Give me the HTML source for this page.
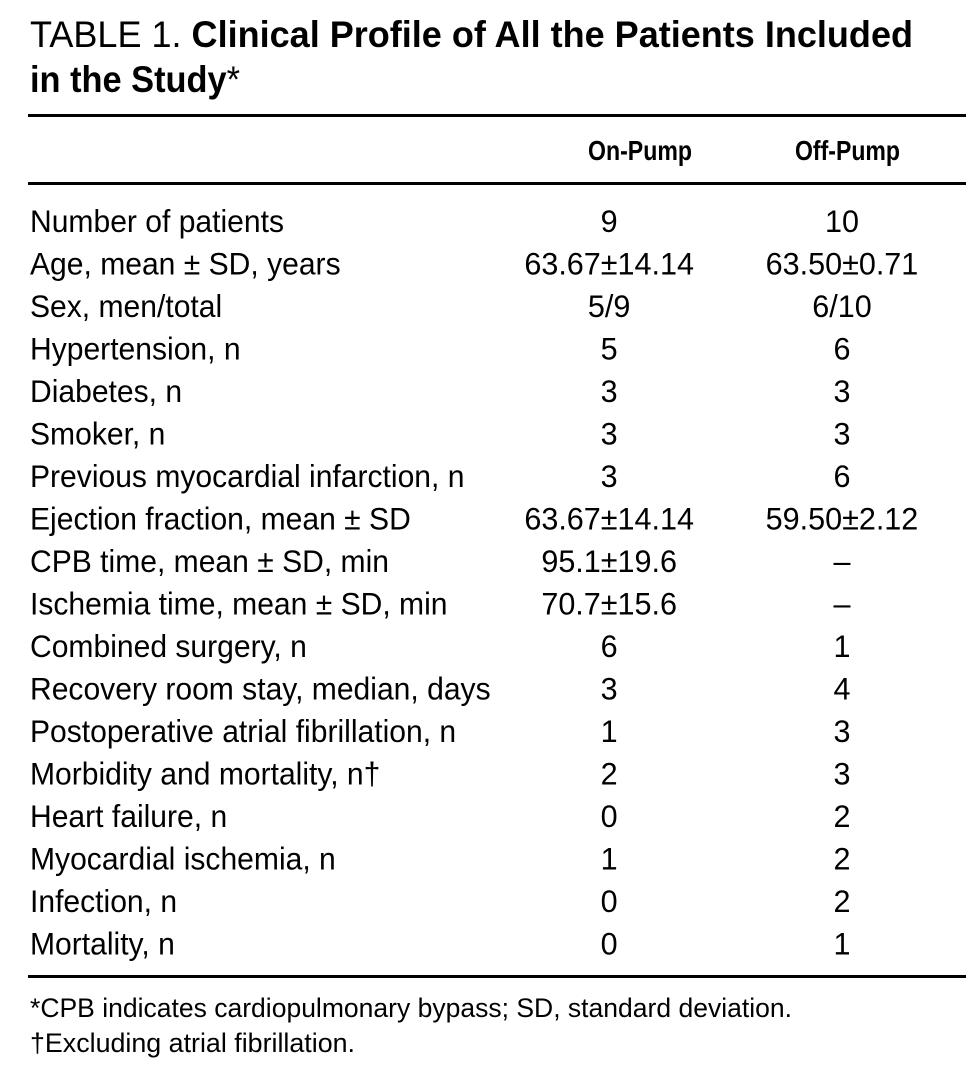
<!DOCTYPE html>
<html><head><meta charset="utf-8"><style>
html,body{margin:0;padding:0;background:#fff;}
svg{display:block;font-family:"Liberation Sans",sans-serif;fill:#000;}
</style></head><body>
<svg width="974" height="1072" viewBox="0 0 974 1072" xmlns="http://www.w3.org/2000/svg">
<text x="30" y="47" font-size="37" textLength="883" lengthAdjust="spacingAndGlyphs">TABLE 1. <tspan font-weight="bold">Clinical Profile of All the Patients Included</tspan></text>
<text x="30" y="92" font-size="37" font-weight="bold" textLength="210" lengthAdjust="spacingAndGlyphs">in the Study<tspan font-weight="normal">*</tspan></text>
<rect x="28" y="114" width="938" height="3"/>
<text x="588" y="160" font-size="28" font-weight="bold" textLength="104" lengthAdjust="spacingAndGlyphs">On-Pump</text>
<text x="795" y="160" font-size="28" font-weight="bold" textLength="105" lengthAdjust="spacingAndGlyphs">Off-Pump</text>
<rect x="28" y="182" width="938" height="3"/>
<g transform="scale(0.955,1)" font-size="31.5">
<g transform="translate(31.41,0)">
<text y="232">Number of patients</text>
<text y="274.5">Age, mean ± SD, years</text>
<text y="317">Sex, men/total</text>
<text y="359.5">Hypertension, n</text>
<text y="402">Diabetes, n</text>
<text y="444.5">Smoker, n</text>
<text y="487">Previous myocardial infarction, n</text>
<text y="529.5">Ejection fraction, mean ± SD</text>
<text y="572">CPB time, mean ± SD, min</text>
<text y="614.5">Ischemia time, mean ± SD, min</text>
<text y="657">Combined surgery, n</text>
<text y="699.5">Recovery room stay, median, days</text>
<text y="742">Postoperative atrial fibrillation, n</text>
<text y="784.5">Morbidity and mortality, n†</text>
<text y="827">Heart failure, n</text>
<text y="869.5">Myocardial ischemia, n</text>
<text y="912">Infection, n</text>
<text y="954.5">Mortality, n</text>
</g>
</g>
<g transform="scale(0.97,1)" font-size="31.5">
<g text-anchor="middle" transform="translate(628,0)">
<text y="232">9</text><text y="274.5">63.67±14.14</text><text y="317">5/9</text><text y="359.5">5</text><text y="402">3</text><text y="444.5">3</text><text y="487">3</text><text y="529.5">63.67±14.14</text><text y="572">95.1±19.6</text><text y="614.5">70.7±15.6</text><text y="657">6</text><text y="699.5">3</text><text y="742">1</text><text y="784.5">2</text><text y="827">0</text><text y="869.5">1</text><text y="912">0</text><text y="954.5">0</text>
</g>
<g text-anchor="middle" transform="translate(868,0)">
<text y="232">10</text><text y="274.5">63.50±0.71</text><text y="317">6/10</text><text y="359.5">6</text><text y="402">3</text><text y="444.5">3</text><text y="487">6</text><text y="529.5">59.50±2.12</text><text y="572">–</text><text y="614.5">–</text><text y="657">1</text><text y="699.5">4</text><text y="742">3</text><text y="784.5">3</text><text y="827">2</text><text y="869.5">2</text><text y="912">2</text><text y="954.5">1</text>
</g>
</g>
<rect x="28" y="975" width="938" height="3"/>
<text x="30" y="1017" font-size="27" textLength="762" lengthAdjust="spacingAndGlyphs">*CPB indicates cardiopulmonary bypass; SD, standard deviation.</text>
<text x="30" y="1052" font-size="27" textLength="325" lengthAdjust="spacingAndGlyphs">†Excluding atrial fibrillation.</text>
</svg>
</body></html>
